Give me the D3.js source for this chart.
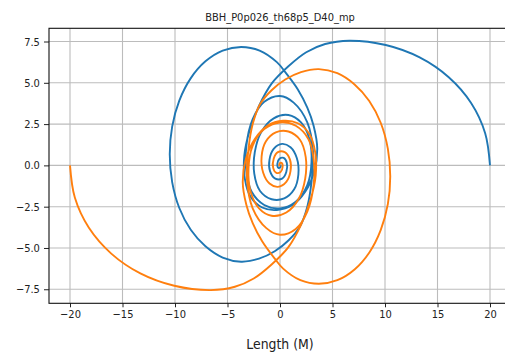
<!DOCTYPE html>
<html>
<head>
<meta charset="utf-8">
<script src="https://cdn.jsdelivr.net/npm/d3@7"></script>
<style>
  html, body { margin: 0; padding: 0; background: #fff; }
  text { font-family: "DejaVu Sans", sans-serif; fill: #222; }
</style>
</head>
<body>
<div id="chart"></div>
<script>
// orbit of the two black holes (x, y in M)
const blueTrack = [
  [20.0, 0.0], [19.54, 1.95], [18.2, 3.78], [16.07, 5.34], [13.3, 6.54], [10.07, 7.29],
  [6.6, 7.55], [4.3, 7.35], [2.5, 6.85], [0.8, 6.0], [-0.8, 4.95], [-2.0, 3.6],
  [-2.9, 2.1], [-3.4, 0.6], [-3.35, -0.8], [-2.8, -1.9], [-1.7, -2.55], [-0.3, -2.7],
  [1.2, -2.4], [2.4, -1.6], [3.25, -0.4], [3.55, 1.0], [3.2, 2.4], [2.6, 3.5],
  [1.7, 4.6], [0.5, 5.65], [-0.3, 6.25], [-1.94, 6.95], [-3.7, 7.17], [-5.46, 6.95],
  [-7.1, 6.3], [-8.51, 5.27], [-9.59, 3.92], [-10.27, 2.35], [-10.5, 0.67], [-10.27, -1.01],
  [-9.59, -2.58], [-8.5, -3.9], [-7.1, -4.9], [-5.46, -5.58], [-3.7, -5.83], [-2.0, -5.65],
  [-0.5, -5.2], [0.8, -4.55], [1.9, -3.7], [2.6, -2.5], [3.0, -1.0], [3.15, 0.8],
  [2.6, 2.6], [1.3, 3.8], [0.0, 4.2], [-1.5, 3.85], [-2.6, 2.8],
  [-3.2, 1.2], [-3.2, -0.4], [-2.7, -1.6], [-1.5, -2.4], [0.0, -2.6], [1.5, -2.2],
  [2.6, -1.2], [3.0, 0.2], [2.8, 1.6], [2.0, 2.6], [0.8, 3.05], [-0.6, 2.85],
  [-1.8, 2.0], [-2.4, 0.8], [-2.45, -0.5], [-1.9, -1.55], [-0.8, -2.05], [0.4, -2.0],
  [1.35, -1.45], [1.75, -0.55], [1.6, 0.45], [1.0, 1.1], [0.2, 1.3], [-0.6, 1.0],
  [-1.0, 0.35], [-0.95, -0.35], [-0.45, -0.8], [0.2, -0.8], [0.6, -0.4], [0.65, 0.15],
  [0.35, 0.45], [-0.05, 0.4], [-0.25, 0.1], [-0.15, -0.15], [0.05, -0.1], [0.05, 0.05]
];

const orangeTrack = [
  [-20.0, 0.0], [-19.54, -1.95], [-18.2, -3.78], [-16.07, -5.34], [-13.3, -6.54], [-10.07, -7.29],
  [-6.6, -7.55], [-4.3, -7.35], [-2.5, -6.85], [-0.8, -6.0], [0.8, -4.95], [2.0, -3.6],
  [2.9, -2.1], [3.4, -0.6], [3.35, 0.8], [2.8, 1.9], [1.7, 2.55], [0.3, 2.7],
  [-1.2, 2.4], [-2.4, 1.6], [-3.25, 0.4], [-3.55, -1.0], [-3.2, -2.4], [-2.6, -3.5],
  [-1.7, -4.6], [-0.5, -5.65], [0.3, -6.25], [1.94, -6.95], [3.7, -7.17], [5.46, -6.95],
  [7.1, -6.3], [8.51, -5.27], [9.59, -3.92], [10.27, -2.35], [10.5, -0.67], [10.27, 1.01],
  [9.59, 2.58], [8.5, 3.9], [7.1, 4.9], [5.46, 5.58], [3.7, 5.83], [2.0, 5.65],
  [0.5, 5.2], [-0.8, 4.55], [-1.9, 3.7], [-2.6, 2.5], [-3.0, 1.0], [-3.15, -0.8],
  [-2.6, -2.6], [-1.3, -3.8], [0.0, -4.2], [1.5, -3.85], [2.6, -2.8],
  [3.2, -1.2], [3.2, 0.4], [2.7, 1.6], [1.5, 2.4], [0.0, 2.6], [-1.5, 2.2],
  [-2.6, 1.2], [-3.0, -0.2], [-2.8, -1.6], [-2.0, -2.6], [-0.8, -3.05], [0.6, -2.85],
  [1.8, -2.0], [2.4, -0.8], [2.45, 0.5], [1.9, 1.55], [0.8, 2.05], [-0.4, 2.0],
  [-1.35, 1.45], [-1.75, 0.55], [-1.6, -0.45], [-1.0, -1.1], [-0.2, -1.3], [0.6, -1.0],
  [1.0, -0.35], [0.95, 0.35], [0.45, 0.8], [-0.2, 0.8], [-0.6, 0.4], [-0.65, -0.15],
  [-0.35, -0.45], [0.05, -0.4], [0.25, -0.1], [0.15, 0.15], [-0.05, 0.1], [-0.05, -0.05]
];

const xTicks = [-20, -15, -10, -5, 0, 5, 10, 15, 20];
const yTicks = [-7.5, -5.0, -2.5, 0.0, 2.5, 5.0, 7.5];
const title = "BBH_P0p026_th68p5_D40_mp";
const xLabel = "Length (M)";

const W = 505, H = 355;
const plot = { left: 49, right: 511, top: 28.3, bottom: 303.3 };

const svg = d3.select("#chart").append("svg")
  .attr("width", W)
  .attr("height", H);

svg.append("rect").attr("width", W).attr("height", H).attr("fill", "#fff");

const x = d3.scaleLinear().domain([-22, 22]).range([plot.left, plot.right]);
const y = d3.scaleLinear().domain([-8.35, 8.3]).range([plot.bottom, plot.top]);

const minus = v => String(v).replace("-", "\u2212");

// grid
const grid = svg.append("g");
grid.selectAll("line.gx").data(xTicks).join("line")
  .attr("x1", d => x(d)).attr("x2", d => x(d))
  .attr("y1", plot.top).attr("y2", plot.bottom)
  .attr("stroke", "#bcbcbc").attr("stroke-width", 1.1);
grid.selectAll("line.gy").data(yTicks).join("line")
  .attr("x1", plot.left).attr("x2", plot.right)
  .attr("y1", d => y(d)).attr("y2", d => y(d))
  .attr("stroke", "#bcbcbc").attr("stroke-width", 1.1);

// clip the tracks to the axes box
svg.append("clipPath").attr("id", "box")
  .append("rect")
  .attr("x", plot.left).attr("y", plot.top)
  .attr("width", plot.right - plot.left).attr("height", plot.bottom - plot.top);

const line = d3.line()
  .x(d => x(d[0]))
  .y(d => y(d[1]))
  .curve(d3.curveCatmullRom.alpha(0.5));

const tracks = svg.append("g").attr("clip-path", "url(#box)");
tracks.append("path").datum(blueTrack)
  .attr("fill", "none").attr("stroke", "#1f77b4").attr("stroke-width", 1.9)
  .attr("d", line);
tracks.append("path").datum(orangeTrack)
  .attr("fill", "none").attr("stroke", "#ff7f0e").attr("stroke-width", 1.9)
  .attr("d", line);

// axes
const xAxis = svg.append("g")
  .attr("transform", `translate(0,${plot.bottom})`)
  .call(d3.axisBottom(x).tickValues(xTicks).tickSize(4).tickPadding(3)
    .tickFormat(d => minus(d)));
xAxis.select(".domain").remove();
xAxis.selectAll("text")
  .attr("font-size", 11).attr("dy", "0.71em")
  .attr("transform", "scale(0.9,1)");

const yAxis = svg.append("g")
  .attr("transform", `translate(${plot.left},0)`)
  .call(d3.axisLeft(y).tickValues(yTicks).tickSize(5).tickPadding(4)
    .tickFormat(d => minus(d.toFixed(1))));
yAxis.select(".domain").remove();
yAxis.selectAll("text")
  .attr("font-size", 11)
  .attr("transform", "translate(-1,0) scale(0.9,1)");

svg.selectAll(".tick line").attr("stroke", "#222");
svg.selectAll(".tick text").attr("fill", "#222");

// spines
svg.append("rect")
  .attr("x", plot.left).attr("y", plot.top)
  .attr("width", plot.right - plot.left).attr("height", plot.bottom - plot.top)
  .attr("fill", "none").attr("stroke", "#111").attr("stroke-width", 1.1);

// labels
svg.append("text")
  .attr("transform", `translate(${(plot.left + plot.right) / 2},20.5) scale(0.9,1)`)
  .attr("text-anchor", "middle").attr("font-size", 11)
  .text(title);

svg.append("text")
  .attr("transform", `translate(${(plot.left + plot.right) / 2},349) scale(0.89,1)`)
  .attr("text-anchor", "middle").attr("font-size", 14)
  .text(xLabel);
</script>
</body>
</html>
